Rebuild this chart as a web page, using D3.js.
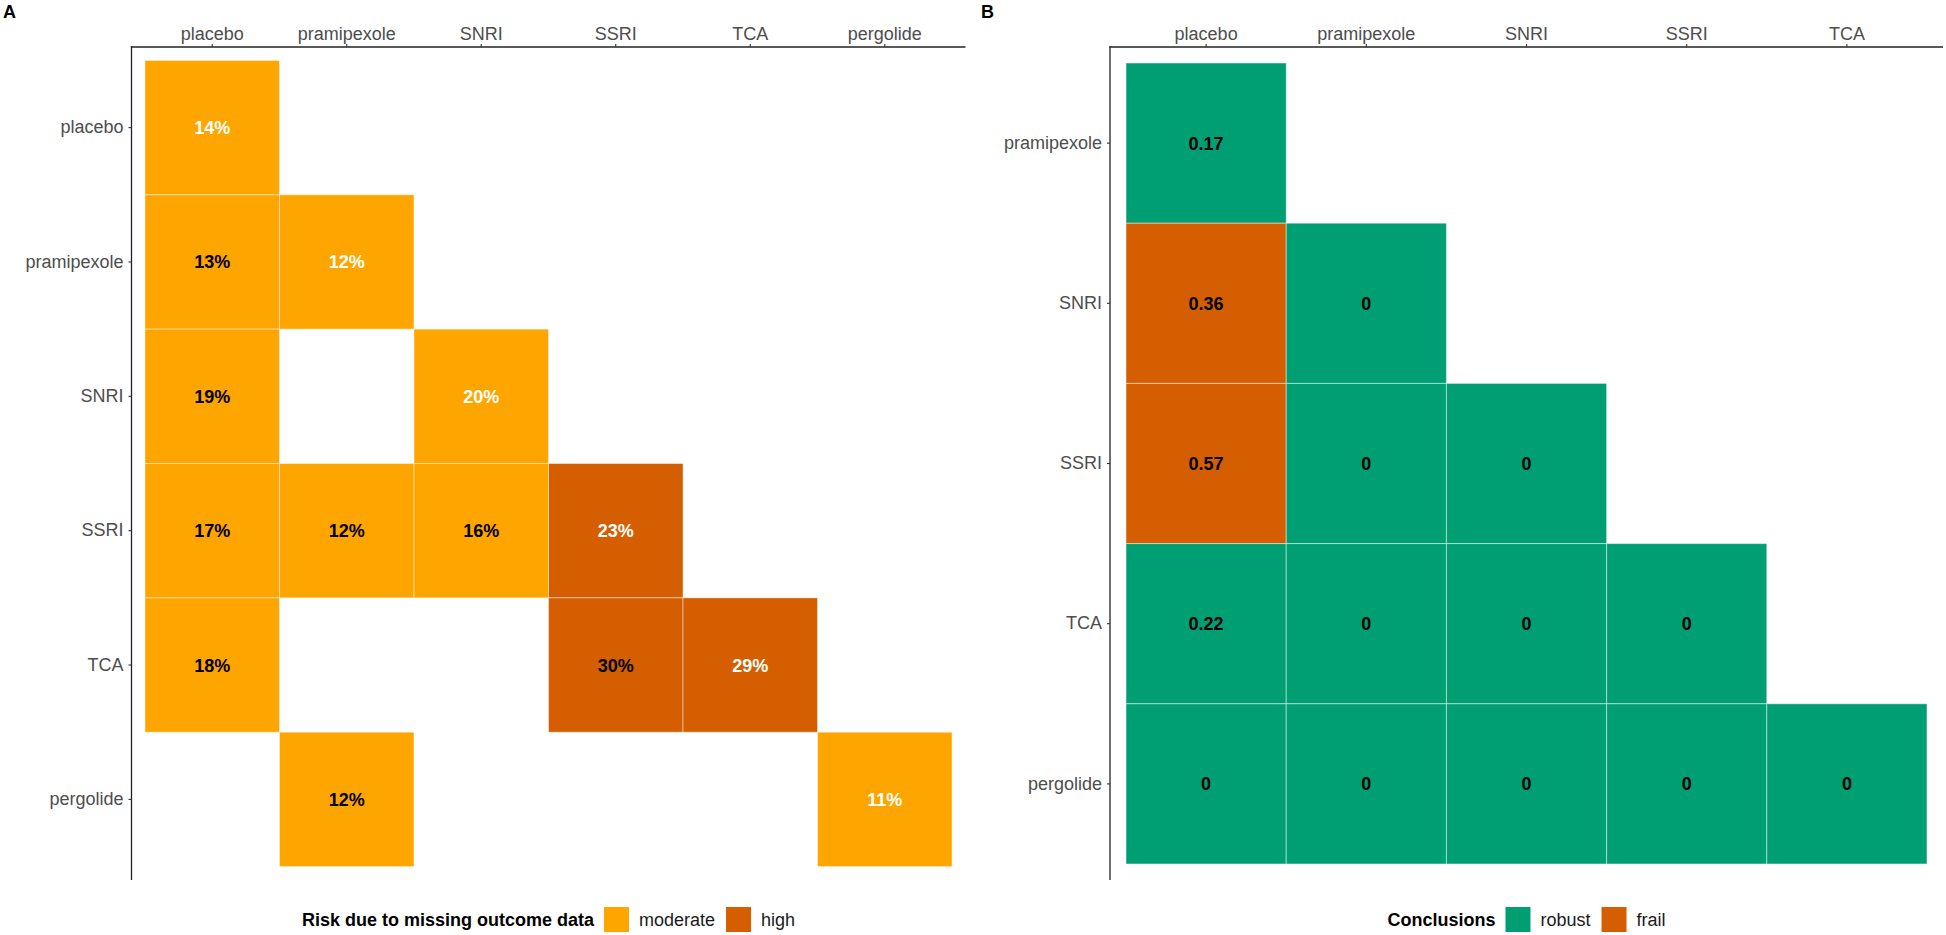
<!DOCTYPE html>
<html>
<head>
<meta charset="utf-8">
<script src="https://cdn.jsdelivr.net/npm/d3@7"></script>
<style>
  html, body { margin: 0; padding: 0; background: #fff; }
  svg { display: block; font-family: Arial, "Liberation Sans", sans-serif; }
</style>
</head>
<body>
<svg id="chart" width="1946" height="935"></svg>
<script>
// ---------- Data ----------
const riskCategories = ["placebo", "pramipexole", "SNRI", "SSRI", "TCA", "pergolide"];
const riskRows   = ["placebo", "pramipexole", "pramipexole", "SNRI", "SNRI", "SSRI", "SSRI", "SSRI", "SSRI", "TCA", "TCA", "TCA", "pergolide", "pergolide"];
const riskCols   = ["placebo", "placebo", "pramipexole", "placebo", "SNRI", "placebo", "pramipexole", "SNRI", "SSRI", "placebo", "SSRI", "TCA", "pramipexole", "pergolide"];
const riskValues = [14, 13, 12, 19, 20, 17, 12, 16, 23, 18, 30, 29, 12, 11];
const riskLevels = ["moderate", "moderate", "moderate", "moderate", "moderate", "moderate", "moderate", "moderate", "high", "moderate", "high", "high", "moderate", "moderate"];
const riskLegendLevels = ["moderate", "high"];

const concXCategories = ["placebo", "pramipexole", "SNRI", "SSRI", "TCA"];
const concYCategories = ["pramipexole", "SNRI", "SSRI", "TCA", "pergolide"];
const concRows   = ["pramipexole", "SNRI", "SNRI", "SSRI", "SSRI", "SSRI", "TCA", "TCA", "TCA", "TCA", "pergolide", "pergolide", "pergolide", "pergolide", "pergolide"];
const concCols   = ["placebo", "placebo", "pramipexole", "placebo", "pramipexole", "SNRI", "placebo", "pramipexole", "SNRI", "SSRI", "placebo", "pramipexole", "SNRI", "SSRI", "TCA"];
const concValues = ["0.17", "0.36", "0", "0.57", "0", "0", "0.22", "0", "0", "0", "0", "0", "0", "0", "0"];
const concLevels = ["robust", "frail", "robust", "frail", "robust", "robust", "robust", "robust", "robust", "robust", "robust", "robust", "robust", "robust", "robust"];
const concLegendLevels = ["robust", "frail"];

// ---------- Styling ----------
const riskColor = d3.scaleOrdinal().domain(["moderate", "high"]).range(["#FFA500", "#D55E00"]);
const concColor = d3.scaleOrdinal().domain(["robust", "frail"]).range(["#009E73", "#D55E00"]);

const svg = d3.select("#chart");

function drawPanel(opts) {
  const { tag, tagX, x0, x1, y0, y1, xCats, yCats, rows, cols, labels, levels, color, textColor, legendTitle, legendLevels } = opts;
  const x = d3.scaleBand().domain(xCats).range([x0, x1]).paddingInner(0).paddingOuter(0.1);
  const y = d3.scaleBand().domain(yCats).range([y0, y1]).paddingInner(0).paddingOuter(0.1);

  svg.append("text").attr("x", tagX).attr("y", 17.5)
    .attr("font-size", 18).attr("font-weight", "bold").attr("fill", "#000").text(tag);

  const data = rows.map((r, i) => ({ r, c: cols[i], label: labels[i], level: levels[i], i }));
  const g = svg.append("g");
  g.selectAll("rect.tile").data(data).enter().append("rect")
    .attr("class", "tile")
    .attr("x", d => x(d.c)).attr("y", d => y(d.r))
    .attr("width", x.bandwidth()).attr("height", y.bandwidth())
    .attr("fill", d => color(d.level))
    .attr("stroke", "rgba(255,255,255,0.45)").attr("stroke-width", 1);

  g.selectAll("text.lab").data(data).enter().append("text")
    .attr("class", "lab")
    .attr("x", d => x(d.c) + x.bandwidth() / 2)
    .attr("y", d => y(d.r) + y.bandwidth() / 2)
    .attr("dy", "0.36em")
    .attr("text-anchor", "middle")
    .attr("font-size", 18).attr("font-weight", "bold")
    .attr("fill", d => textColor(d))
    .text(d => d.label);

  // axes
  const xAxis = svg.append("g").attr("transform", `translate(0,${y0})`)
    .call(d3.axisTop(x).tickSize(3).tickPadding(4).tickSizeOuter(0));
  const yAxis = svg.append("g").attr("transform", `translate(${x0},0)`)
    .call(d3.axisLeft(y).tickSize(3).tickPadding(5).tickSizeOuter(0));
  [xAxis, yAxis].forEach(a => {
    a.select(".domain").attr("stroke", "#222").attr("stroke-width", 1.3);
    a.selectAll(".tick line").attr("stroke", "#333").attr("stroke-width", 1.1);
    a.selectAll(".tick text").attr("font-size", 18).attr("fill", "#4D4D4D")
      .attr("font-family", "Arial, 'Liberation Sans', sans-serif");
  });
  xAxis.select(".domain").attr("d", `M${x0 - 0.65},0H${x1}`);
  yAxis.select(".domain").attr("d", `M0,${y0 - 0.65}V${y1}`);

  // legend
  const lg = svg.append("g");
  const baseY = 926;
  const title = lg.append("text").attr("x", 0).attr("y", baseY)
    .attr("font-size", 18).attr("font-weight", "bold").attr("fill", "#000").text(legendTitle);
  let cx = title.node().getComputedTextLength() + 10;
  legendLevels.forEach((lvl, k) => {
    lg.append("rect").attr("x", cx).attr("y", 907).attr("width", 25).attr("height", 25)
      .attr("fill", color(lvl));
    cx += 25 + 10;
    const t = lg.append("text").attr("x", cx).attr("y", baseY)
      .attr("font-size", 18).attr("fill", "#1a1a1a").text(lvl);
    cx += t.node().getComputedTextLength() + (k < legendLevels.length - 1 ? 11 : 0);
  });
  const center = (x0 + x1) / 2;
  lg.attr("transform", `translate(${center - cx / 2},0)`);
}

drawPanel({
  tag: "A", tagX: 3,
  x0: 131.5, x1: 965.5, y0: 47, y1: 880,
  xCats: riskCategories, yCats: riskCategories,
  rows: riskRows, cols: riskCols,
  labels: riskValues.map(v => v + "%"),
  levels: riskLevels, color: riskColor,
  textColor: d => (d.r === d.c ? "#fff" : "#000"),
  legendTitle: "Risk due to missing outcome data",
  legendLevels: riskLegendLevels
});

drawPanel({
  tag: "B", tagX: 981,
  x0: 1110, x1: 1943, y0: 47, y1: 880,
  xCats: concXCategories, yCats: concYCategories,
  rows: concRows, cols: concCols,
  labels: concValues,
  levels: concLevels, color: concColor,
  textColor: d => "#000",
  legendTitle: "Conclusions",
  legendLevels: concLegendLevels
});
</script>
</body>
</html>
